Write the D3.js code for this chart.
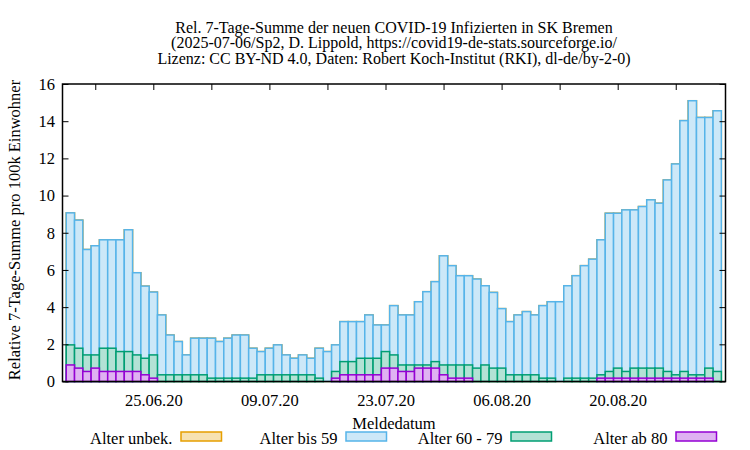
<!DOCTYPE html>
<html><head><meta charset="utf-8">
<script src="https://cdn.jsdelivr.net/npm/d3@7"></script>
<style>body{margin:0;background:#fff}svg{display:block}text{font-family:"Liberation Serif","Times New Roman",serif;fill:#000}</style>
</head><body><svg id="c" width="750" height="450"></svg>
<script>
const startDate = "2020-06-15";
const nDays = 79;
const titleLines = [
  "Rel. 7-Tage-Summe der neuen COVID-19 Infizierten in SK Bremen",
  "(2025-07-06/Sp2, D. Lippold, https://covid19-de-stats.sourceforge.io/",
  "Lizenz: CC BY-ND 4.0, Daten: Robert Koch-Institut (RKI), dl-de/by-2-0)"
];
const yLabel = "Relative 7-Tage-Summe pro 100k Einwohner";
const xLabel = "Meldedatum";
const seriesNames = ["Alter unbek.", "Alter bis 59", "Alter 60 - 79", "Alter ab 80"];
const yTicks = [0,2,4,6,8,10,12,14,16];
const xLabelDates = ["2020-06-25","2020-07-09","2020-07-23","2020-08-06","2020-08-20"];
const xMinorStart = "2020-06-18";

const unbek = new Array(79).fill(0);
const bis59 = [7.10,6.89,5.67,5.87,5.83,5.83,6.01,6.55,4.42,3.88,3.38,3.22,2.14,1.79,1.07,1.97,1.97,2.15,1.97,2.15,
  2.32,2.32,1.61,1.25,1.43,1.61,1.07,0.89,1.07,0.89,1.61,1.61,1.43,2.15,2.15,1.97,2.33,1.79,1.43,2.65,
  2.69,2.69,3.40,3.94,4.30,5.87,5.34,4.80,4.80,4.79,4.26,4.07,3.20,2.86,3.22,3.40,3.22,3.90,4.11,4.29,
  4.97,5.51,6.05,6.40,7.26,8.51,8.33,8.69,8.51,8.69,9.05,8.87,10.30,11.34,13.49,14.74,13.84,13.48,14.02];
const a60_79 = [1.08,1.07,0.89,0.71,1.25,1.25,1.07,1.07,0.89,0.89,1.25,0.36,0.36,0.36,0.36,0.36,0.36,0.18,0.18,0.18,
  0.18,0.18,0.18,0.36,0.36,0.36,0.36,0.36,0.36,0.36,0.18,0,0.36,0.71,0.71,0.89,0.89,0.89,0.89,0.71,
  0.35,0.35,0.17,0.17,0.35,0.53,0.71,0.71,0.71,0.72,0.89,0.72,0.72,0.36,0.36,0.36,0.36,0.18,0.18,0,
  0.18,0.18,0.18,0.18,0.18,0.36,0.54,0.36,0.54,0.54,0.54,0.54,0.36,0.18,0.36,0.18,0.18,0.54,0.54];
const ab80 = [0.89,0.72,0.54,0.72,0.54,0.54,0.54,0.54,0.54,0.36,0.18,0,0,0,0,0,0,0,0,0,
  0,0,0,0,0,0,0,0,0,0,0,0,0.18,0.36,0.36,0.36,0.36,0.36,0.72,0.72,
  0.54,0.54,0.72,0.72,0.72,0.36,0.18,0.18,0.18,0,0,0,0,0,0,0,0,0,0,0,
  0,0,0,0,0.18,0.18,0.18,0.18,0.18,0.18,0.18,0.18,0.18,0.18,0.18,0.18,0.18,0.18,0];

const strokeCols = ["#e69f00","#56b4e9","#009e73","#9400d3"];
const fillCols = ["#f7e2b2","#cce8f8","#b3e2d5","#dfb2f2"];

const parse = d3.utcParse("%Y-%m-%d");
const day0 = parse(startDate);
const dates = d3.range(nDays).map(i => d3.utcDay.offset(day0, i));

const svg = d3.select("#c");
const L = 62.5, R = 725.5, T = 84, B = 381.5;
const DAY = 864e5;
const x = d3.scaleUtc().domain([new Date(+day0 - 0.95*DAY), new Date(+day0 + 79.0*DAY)]).range([L, R]);
const y = d3.scaleLinear().domain([0,16]).range([B, T]);
const bw = x(dates[1]) - x(dates[0]);

// stacked cumulative tops (drawn overlapping from the back)
const stackSeries = [unbek, bis59, a60_79, ab80];
const tops = stackSeries.map((s, k) => dates.map((d, i) => d3.sum(stackSeries.slice(k).map(a => a[i]))));

const gBars = svg.append("g");
tops.forEach((arr, k) => {
  gBars.append("g").selectAll("rect").data(arr).join("rect")
    .attr("x", (v, i) => x(dates[i]) - bw/2)
    .attr("width", bw)
    .attr("y", v => y(v))
    .attr("height", v => B - y(v))
    .attr("fill", fillCols[k])
    .attr("stroke", strokeCols[k])
    .attr("stroke-width", 1.5);
});

// axes
const minorDates = d3.range(0, 12).map(i => d3.utcDay.offset(parse(xMinorStart), 7*i)).filter(d => x(d) < R);
const topAxis = d3.axisTop(x).tickValues(minorDates).tickSize(-6).tickFormat("");
svg.append("g").attr("transform", `translate(0,${T})`).call(topAxis)
  .call(g => g.select(".domain").remove())
  .call(g => g.selectAll("line").attr("stroke", "#000").attr("stroke-width", 1));

const bottomAxis = d3.axisBottom(x).tickValues(xLabelDates.map(parse)).tickSize(0).tickPadding(13)
  .tickFormat(d3.utcFormat("%d.%m.%y"));
svg.append("g").attr("transform", `translate(0,${B})`).call(bottomAxis)
  .call(g => g.select(".domain").remove())
  .call(g => g.selectAll("text").attr("font-size", 16.5).attr("font-family", null));

const leftAxis = d3.axisLeft(y).tickValues(yTicks).tickSize(-6).tickPadding(7.5).tickFormat(d3.format("d"));
svg.append("g").attr("transform", `translate(${L},0)`).call(leftAxis)
  .call(g => g.select(".domain").remove())
  .call(g => g.selectAll("line").attr("stroke", "#000"))
  .call(g => g.selectAll("text").attr("font-size", 16.5).attr("font-family", null));
const rightAxis = d3.axisRight(y).tickValues(yTicks).tickSize(-6).tickFormat("");
svg.append("g").attr("transform", `translate(${R},0)`).call(rightAxis)
  .call(g => g.select(".domain").remove())
  .call(g => g.selectAll("line").attr("stroke", "#000"));

svg.append("rect").attr("x", L).attr("y", T).attr("width", R-L).attr("height", B-T)
  .attr("fill", "none").attr("stroke", "#000").attr("stroke-width", 1.5);

// title
svg.append("g").selectAll("text").data(titleLines).join("text")
  .attr("x", 394).attr("y", (d,i) => 32.5 + i*15.5)
  .attr("text-anchor", "middle").attr("font-size", 16).text(d => d);

svg.append("text").attr("transform", "translate(19.5,230) rotate(-90)")
  .attr("text-anchor", "middle").attr("font-size", 16.5).text(yLabel);
svg.append("text").attr("x", 394).attr("y", 429).attr("text-anchor", "middle").attr("font-size", 16.5).text(xLabel);

// legend
const legBoxX = [181, 346, 511, 676];
const lg = svg.append("g");
seriesNames.forEach((nm, k) => {
  lg.append("text").attr("x", legBoxX[k] - 8.5).attr("y", 443.5).attr("text-anchor", "end").attr("font-size", 16.5).text(nm);
  lg.append("rect").attr("x", legBoxX[k]).attr("y", 432).attr("width", 40.5).attr("height", 9)
    .attr("fill", fillCols[k]).attr("stroke", strokeCols[k]).attr("stroke-width", 1.5);
});
</script></body></html>
